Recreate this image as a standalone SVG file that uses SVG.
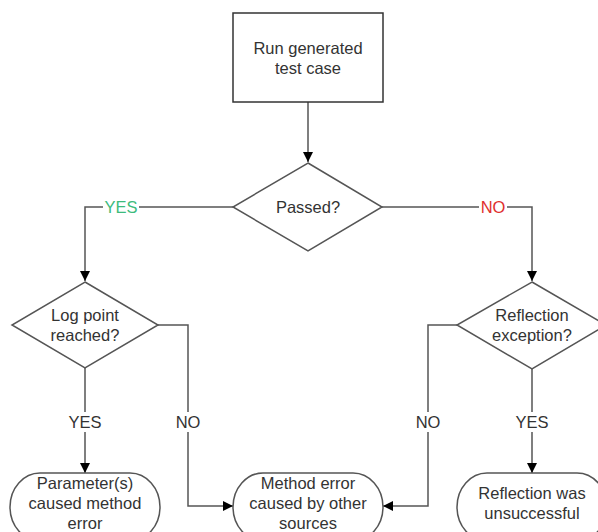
<svg xmlns="http://www.w3.org/2000/svg" width="598" height="532" viewBox="0 0 598 532">
<style>
.shape{fill:#fff;stroke:#555;stroke-width:1.5}
.box{fill:#fff;stroke:#333;stroke-width:1.5}
.conn{fill:none;stroke:#555;stroke-width:1.5}
text{font-family:"Liberation Sans",Arial,sans-serif;font-size:16.5px;fill:#333;text-anchor:middle}
.yes{fill:#3dbb7d}
.no{fill:#e0302e}
.bg{fill:#fff}
</style>
<defs>
<marker id="arr" viewBox="0 0 10 10" refX="10" refY="5" markerWidth="10" markerHeight="10" markerUnits="userSpaceOnUse" orient="auto">
<path d="M0,0 L10,5 L0,10 Z" fill="#000"/>
</marker>
</defs>
<rect width="598" height="532" fill="#fff"/>
<g id="connectors">
<path class="conn" d="M308,102 V162" marker-end="url(#arr)"/>
<path class="conn" d="M233,207 H85 V281" marker-end="url(#arr)"/>
<path class="conn" d="M382,207 H532 V281" marker-end="url(#arr)"/>
<path class="conn" d="M85,368 V473" marker-end="url(#arr)"/>
<path class="conn" d="M158,325 H188 V506 H233" marker-end="url(#arr)"/>
<path class="conn" d="M457,325 H428 V506 H383" marker-end="url(#arr)"/>
<path class="conn" d="M532,369 V473" marker-end="url(#arr)"/>
<rect class="bg" x="103" y="199" width="36" height="16"/>
<text class="yes" x="121" y="213">YES</text>
<rect class="bg" x="479" y="199" width="28" height="16"/>
<text class="no" x="493" y="213">NO</text>
<rect class="bg" x="66" y="412" width="38" height="20"/>
<text x="85" y="428">YES</text>
<rect class="bg" x="174" y="412" width="28" height="20"/>
<text x="188" y="428">NO</text>
<rect class="bg" x="414" y="412" width="28" height="20"/>
<text x="428" y="428">NO</text>
<rect class="bg" x="513" y="412" width="38" height="20"/>
<text x="532" y="428">YES</text>
</g>
<g id="run">
<rect class="box" x="233" y="13" width="150" height="89"/>
<text x="308" y="54">Run generated</text>
<text x="308" y="74">test case</text>
</g>
<g id="passed">
<polygon class="shape" points="308,163 382,207 308,251 233,207"/>
<text x="308" y="213">Passed?</text>
</g>
<g id="logpoint">
<polygon class="shape" points="85,282 158,325 85,368 12,325"/>
<text x="85" y="321">Log point</text>
<text x="85" y="341">reached?</text>
</g>
<g id="reflection">
<polygon class="shape" points="532,282 606,325 532,369 457,325"/>
<text x="532" y="321">Reflection</text>
<text x="532" y="341">exception?</text>
</g>
<g id="param">
<rect class="shape" x="10" y="473" width="150" height="68" rx="30" ry="34"/>
<text x="85" y="489">Parameter(s)</text>
<text x="85" y="509">caused method</text>
<text x="85" y="529">error</text>
</g>
<g id="method">
<rect class="shape" x="233" y="473" width="150" height="68" rx="30" ry="34"/>
<text x="308" y="489">Method error</text>
<text x="308" y="509">caused by other</text>
<text x="308" y="529">sources</text>
</g>
<g id="reflfail">
<rect class="shape" x="457" y="473" width="150" height="68" rx="30" ry="34"/>
<text x="532" y="499">Reflection was</text>
<text x="532" y="519">unsuccessful</text>
</g>
</svg>
